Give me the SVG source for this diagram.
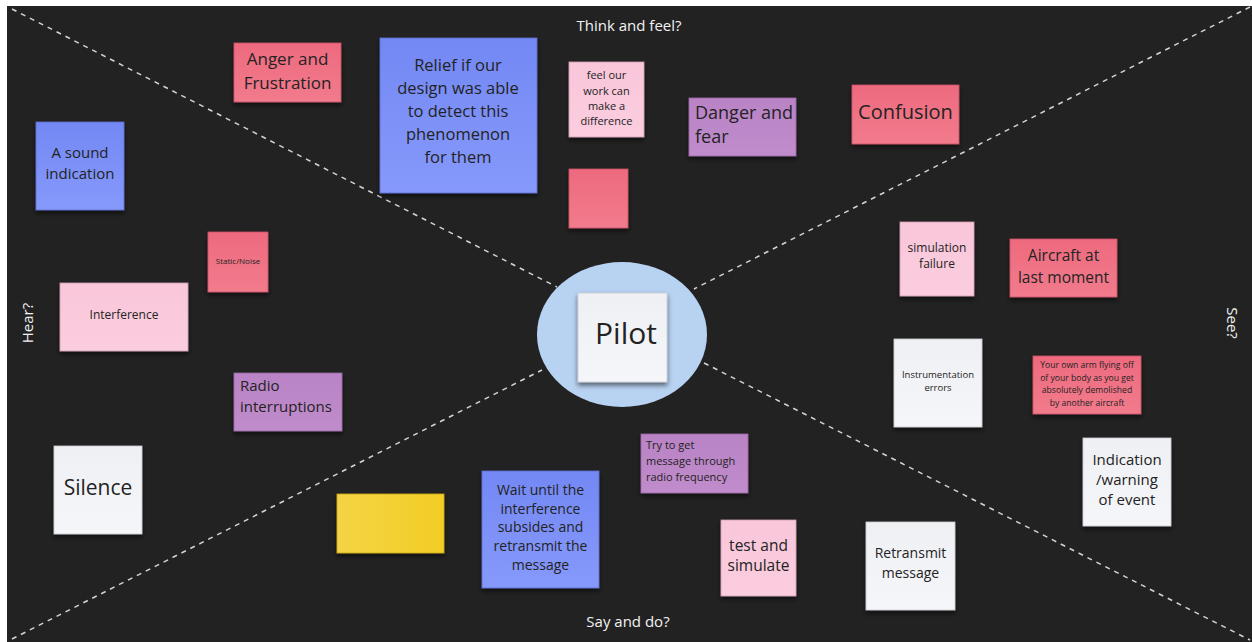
<svg xmlns="http://www.w3.org/2000/svg" width="1252" height="642" viewBox="0 0 1252 642">
<defs>
<filter id="sh" x="-10%" y="-10%" width="120%" height="130%">
<feDropShadow dx="0" dy="3" stdDeviation="2.5" flood-color="#000" flood-opacity="0.55"/>
</filter>
<linearGradient id="gRed" x1="0" y1="0" x2="0" y2="1"><stop offset="0" stop-color="#ee6a7e"/><stop offset="1" stop-color="#f17b8c"/></linearGradient>
<linearGradient id="gBlue" x1="0" y1="0" x2="0" y2="1"><stop offset="0" stop-color="#7388f4"/><stop offset="1" stop-color="#8699fb"/></linearGradient>
<linearGradient id="gPink" x1="0" y1="0" x2="0" y2="1"><stop offset="0" stop-color="#f9c6da"/><stop offset="1" stop-color="#fbcddf"/></linearGradient>
<linearGradient id="gPurp" x1="0" y1="0" x2="0" y2="1"><stop offset="0" stop-color="#b983c5"/><stop offset="1" stop-color="#c08ccb"/></linearGradient>
<linearGradient id="gWhite" x1="0" y1="0" x2="0" y2="1"><stop offset="0" stop-color="#eff0f3"/><stop offset="1" stop-color="#f5f6f9"/></linearGradient>
<linearGradient id="gYel" x1="0" y1="0" x2="1" y2="0"><stop offset="0" stop-color="#f4d444"/><stop offset="1" stop-color="#f3cd25"/></linearGradient>
</defs>
<style>
.bg{fill:#222222}
.dash{stroke:#d4d4d4;stroke-width:1.5;stroke-dasharray:5 5;fill:none}
.lbl{font-family:"Open Sans","Liberation Sans",sans-serif;fill:#f2f2f2;font-size:15px;text-anchor:middle}
.t{font-family:"Open Sans","Liberation Sans",sans-serif;fill:#232323;text-anchor:middle}
.tl{font-family:"Open Sans","Liberation Sans",sans-serif;fill:#232323;text-anchor:start}
.st{filter:url(#sh)}
.red{fill:url(#gRed);stroke:#c95466;stroke-width:0.8}
.blue{fill:url(#gBlue);stroke:#5d6fcf;stroke-width:0.8}
.pink{fill:url(#gPink);stroke:#cf9fb3;stroke-width:0.8}
.purp{fill:url(#gPurp);stroke:#9a68a6;stroke-width:0.8}
.white{fill:url(#gWhite);stroke:#c9cbd0;stroke-width:0.8}
.yel{fill:url(#gYel);stroke:#c9a81d;stroke-width:0.8}
</style>
<rect x="0" y="0" width="1252" height="642" fill="#ffffff"/>
<rect class="bg" x="7" y="6" width="1245" height="636"/>
<g id="connectors">
<line class="dash" x1="12" y1="9" x2="557" y2="287"/>
<line class="dash" x1="1250" y1="7" x2="694" y2="289"/>
<line class="dash" x1="12" y1="639" x2="542" y2="370"/>
<line class="dash" x1="704" y1="363" x2="1250" y2="640"/>
</g>
<g id="labels">
<text class="lbl" x="629" y="31">Think and feel?</text>
<text class="lbl" x="628" y="627">Say and do?</text>
<text class="lbl" transform="translate(33,323) rotate(-90)">Hear?</text>
<text class="lbl" transform="translate(1227,323) rotate(90)">See?</text>
</g>
<g id="center">
<ellipse cx="622" cy="334.5" rx="85" ry="72.5" fill="#b8d2f2"/>
<rect class="st white" x="578" y="293" width="89" height="89"/>
<text class="t" x="626" y="344" font-size="30">Pilot</text>
</g>
<g id="n-anger"><rect class="st red" x="234" y="43" width="107" height="59"/>
<text class="t" font-size="17"><tspan x="287.5" y="65">Anger and</tspan><tspan x="287.5" y="89">Frustration</tspan></text></g>
<g id="n-sound"><rect class="st blue" x="36" y="122" width="88" height="88"/>
<text class="t" font-size="15"><tspan x="80" y="158">A sound</tspan><tspan x="80" y="179">indication</tspan></text></g>
<g id="n-relief"><rect class="st blue" x="380" y="38" width="157" height="155"/>
<text class="t" font-size="16.5"><tspan x="458" y="71">Relief if our</tspan><tspan x="458" y="94">design was able</tspan><tspan x="458" y="117">to detect this</tspan><tspan x="458" y="140">phenomenon</tspan><tspan x="458" y="163">for them</tspan></text></g>
<g id="n-feel"><rect class="st pink" x="569" y="62" width="75" height="75"/>
<text class="t" font-size="11"><tspan x="606.5" y="79">feel our</tspan><tspan x="606.5" y="95">work can</tspan><tspan x="606.5" y="110">make a</tspan><tspan x="606.5" y="125">difference</tspan></text></g>
<g id="n-danger"><rect class="st purp" x="689" y="98" width="107" height="58"/>
<text class="tl" font-size="18"><tspan x="695" y="119">Danger and</tspan><tspan x="695" y="143">fear</tspan></text></g>
<g id="n-red-empty"><rect class="st red" x="569" y="169" width="59" height="59"/></g>
<g id="n-confusion"><rect class="st red" x="852" y="85" width="107" height="59"/>
<text class="t" font-size="20" x="905.5" y="119">Confusion</text></g>
<g id="n-static"><rect class="st red" x="208" y="232" width="60" height="60"/>
<text class="t" font-size="8" x="238" y="264">Static/Noise</text></g>
<g id="n-interference"><rect class="st pink" x="60" y="283" width="128" height="68"/>
<text class="t" font-size="12" x="124" y="319">Interference</text></g>
<g id="n-radio"><rect class="st purp" x="234" y="373" width="108" height="58"/>
<text class="tl" font-size="15"><tspan x="240" y="391">Radio</tspan><tspan x="240" y="412">interruptions</tspan></text></g>
<g id="n-simfail"><rect class="st pink" x="900" y="222" width="74" height="74"/>
<text class="t" font-size="12"><tspan x="937" y="252">simulation</tspan><tspan x="937" y="268">failure</tspan></text></g>
<g id="n-aircraft"><rect class="st red" x="1010" y="239" width="107" height="58"/>
<text class="t" font-size="15.5"><tspan x="1063.5" y="261">Aircraft at</tspan><tspan x="1063.5" y="283">last moment</tspan></text></g>
<g id="n-instr"><rect class="st white" x="894" y="339" width="88" height="88"/>
<text class="t" font-size="9.5"><tspan x="938" y="378">Instrumentation</tspan><tspan x="938" y="391">errors</tspan></text></g>
<g id="n-arm"><rect class="st red" x="1033" y="356" width="108" height="58"/>
<text class="t" font-size="8.6"><tspan x="1087" y="368">Your own arm flying off</tspan><tspan x="1087" y="380.5">of your body as you get</tspan><tspan x="1087" y="393">absolutely demolished</tspan><tspan x="1087" y="405.5">by another aircraft</tspan></text></g>
<g id="n-indication"><rect class="st white" x="1083" y="438" width="88" height="88"/>
<text class="t" font-size="15"><tspan x="1127" y="465">Indication</tspan><tspan x="1127" y="485">/warning</tspan><tspan x="1127" y="505">of event</tspan></text></g>
<g id="n-silence"><rect class="st white" x="54" y="446" width="88" height="88"/>
<text class="t" font-size="21" x="98" y="495">Silence</text></g>
<g id="n-yellow"><rect class="st yel" x="337" y="494" width="107" height="59"/></g>
<g id="n-wait"><rect class="st blue" x="482" y="471" width="117" height="117"/>
<text class="t" font-size="14"><tspan x="540.5" y="495">Wait until the</tspan><tspan x="540.5" y="514">interference</tspan><tspan x="540.5" y="532">subsides and</tspan><tspan x="540.5" y="551">retransmit the</tspan><tspan x="540.5" y="570">message</tspan></text></g>
<g id="n-try"><rect class="st purp" x="641" y="434" width="107" height="59"/>
<text class="tl" font-size="11"><tspan x="646" y="449">Try to get</tspan><tspan x="646" y="465">message through</tspan><tspan x="646" y="481">radio frequency</tspan></text></g>
<g id="n-test"><rect class="st pink" x="721" y="520" width="75" height="76"/>
<text class="t" font-size="15.5"><tspan x="758.5" y="551">test and</tspan><tspan x="758.5" y="571">simulate</tspan></text></g>
<g id="n-retransmit"><rect class="st white" x="866" y="522" width="89" height="88"/>
<text class="t" font-size="14"><tspan x="910.5" y="558">Retransmit</tspan><tspan x="910.5" y="578">message</tspan></text></g>
</svg>
